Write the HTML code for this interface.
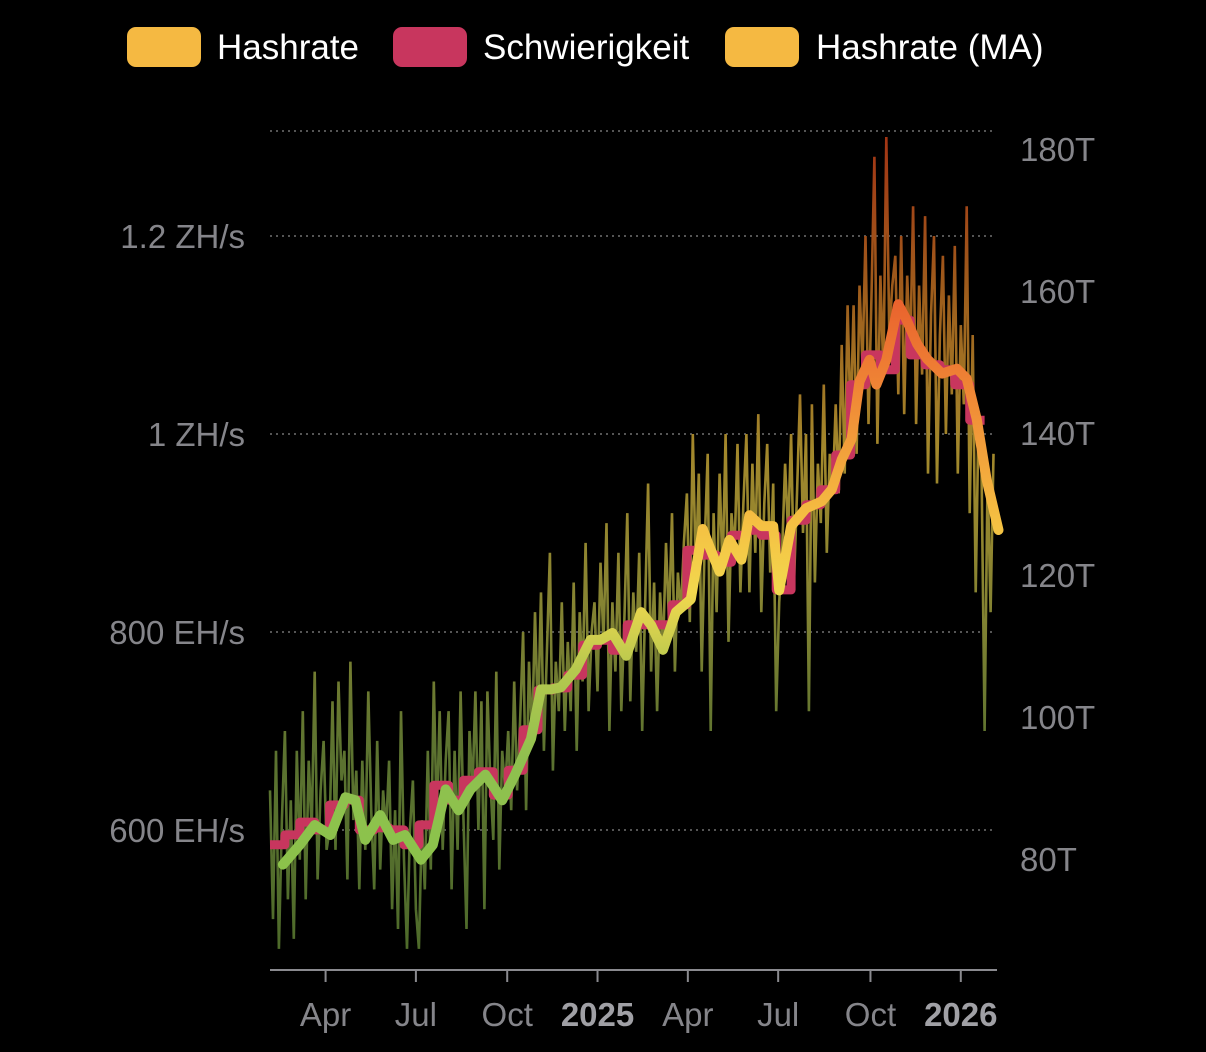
<!DOCTYPE html>
<html><head><meta charset="utf-8"><style>
html,body{margin:0;padding:0;background:#000;}
body{width:1206px;height:1052px;overflow:hidden;font-family:"Liberation Sans",sans-serif;}
.lg{position:absolute;top:27px;height:40px;width:74px;border-radius:9px;}
.lt{position:absolute;top:27px;font-size:35px;color:#fff;line-height:42px;}
</style></head><body>
<div>
<div class="lg" style="left:127px;background:#f5b942"></div>
<div class="lt" style="left:217px">Hashrate</div>
<div class="lg" style="left:393px;background:#c8365e"></div>
<div class="lt" style="left:483px">Schwierigkeit</div>
<div class="lg" style="left:725px;background:#f5b942"></div>
<div class="lt" style="left:816px">Hashrate (MA)</div>
</div>
<svg id="chart" width="1206" height="1052" style="position:absolute;left:0;top:0">
<defs>
<linearGradient id="gRaw" gradientUnits="userSpaceOnUse" x1="0" y1="130" x2="0" y2="970">
<stop offset="0" stop-color="#a33314"/><stop offset="0.2" stop-color="#9e5e1c"/><stop offset="0.38" stop-color="#a3882c"/>
<stop offset="0.56" stop-color="#868432"/><stop offset="0.74" stop-color="#5c7330"/><stop offset="1" stop-color="#4d6a2a"/>
</linearGradient>
<linearGradient id="gMA" gradientUnits="userSpaceOnUse" x1="0" y1="280" x2="0" y2="880">
<stop offset="0" stop-color="#e85a2c"/><stop offset="0.2" stop-color="#f08a36"/><stop offset="0.4" stop-color="#f5bf42"/>
<stop offset="0.52" stop-color="#f2d84e"/><stop offset="0.65" stop-color="#b6c84e"/><stop offset="0.8" stop-color="#8fc04f"/><stop offset="1" stop-color="#8bc34a"/>
</linearGradient>
</defs>
<g id="grid"></g><g id="axes"></g><g id="series"></g>
</svg>
<script>
const startStepDays = 3;
const hashrate = [
640,510,680,480,610,700,530,630,490,680,
570,720,530,670,600,760,550,640,690,580,
600,730,580,750,650,680,550,770,610,660,
540,670,580,740,620,540,690,560,640,600,
670,520,620,500,720,570,480,600,650,520,
480,610,540,680,560,750,610,720,580,670,
720,540,680,580,740,610,500,700,640,740,
600,730,520,740,650,590,760,560,680,640,
700,620,750,640,710,800,620,770,690,820,
710,840,680,780,880,660,770,720,830,700,
790,720,850,680,820,750,890,720,800,830,
740,870,790,910,700,830,760,880,720,810,
920,730,840,780,880,700,830,950,760,850,
720,840,780,890,810,920,760,860,820,890,
940,810,1000,860,960,760,890,980,700,920,
820,960,860,1000,790,920,880,990,840,930,
1000,840,970,880,1020,820,930,990,860,950,
720,830,880,970,900,1000,850,940,1040,900,
1000,720,1030,850,970,910,1050,880,980,940,
1030,940,1090,960,1130,1010,1130,980,1150,1070,
1200,1010,1140,1280,990,1160,1060,1300,1100,1150,
1180,1040,1200,1020,1160,1080,1230,1010,1150,1060,
1220,960,1120,1200,950,1100,1180,1000,1140,1040,
1190,960,1110,1030,1230,920,1100,840,1020,960,
700,960,820,980];
const maDays = [13,30,45,61,76,86,96,111,124,136,152,164,177,190,202,217,227,234,247,263,273,283,293,308,323,333,345,359,374,384,396,409,424,436,444,453,463,475,483,495,507,513,525,540,556,566,576,586,594,604,611,621,633,641,652,662,677,692,702,712,722,734];
const maValues = [565,585,605,595,633,630,590,615,590,595,570,585,641,620,641,656,641,630,656,692,742,742,744,762,792,792,799,776,820,807,782,820,833,904,883,861,893,873,918,907,907,842,907,925,932,944,974,995,1053,1075,1050,1075,1131,1116,1091,1076,1061,1066,1056,1015,954,903];
const diffEpochDays = 15;
const difficultyT = [82.0,83.4,85.2,84.1,87.6,88.3,84.1,84.4,84.1,82.0,84.8,90.4,88.3,91.1,92.3,89.0,92.5,98.2,103.8,104.1,105.9,110.1,110.8,109.4,113.0,113.0,113.0,115.8,123.5,122.8,121.8,125.6,126.3,125.6,117.9,127.7,129.9,132.0,136.9,146.8,151.0,148.9,155.9,151.0,149.6,148.9,146.8,141.8];
const leftTicks = [600,800,1000,1200];
const leftTickLabels = ["600 EH/s","800 EH/s","1 ZH/s","1.2 ZH/s"];
const rightTicks = [80,100,120,140,160,180];
const xTickDays = [56,147,239,330,421,512,605,696];
const xTickLabels = ["Apr","Jul","Oct","2025","Apr","Jul","Oct","2026"];

const NS="http://www.w3.org/2000/svg";
const X0=270, XR=0.9925, XEND=997;
const xS=d=>X0+d*XR;
const yL=v=>830-(v-600)*0.99;
const yR=t=>859-(t-80)*7.1;
function mk(tag,attrs,parent){const e=document.createElementNS(NS,tag);for(const k in attrs)e.setAttribute(k,attrs[k]);parent.appendChild(e);return e;}
const grid=document.getElementById('grid'),axes=document.getElementById('axes'),ser=document.getElementById('series');
[...leftTicks.map(yL),131].forEach((y,i)=>{
 const l=mk('line',{x1:X0,x2:993,y1:y,y2:y,stroke:'#555',"stroke-width":2,"stroke-dasharray":"2 4"},grid);
 
 
});
leftTicks.forEach((v,i)=>{
 const t=mk('text',{x:245,y:yL(v)+12,"text-anchor":"end",fill:'#85858a',"font-size":33},axes);
 t.textContent=leftTickLabels[i];
 
 
});
rightTicks.forEach(v=>{
 const t=mk('text',{x:1020,y:yR(v)+12,fill:'#85858a',"font-size":33},axes);
 t.textContent=v+'T';
 
 
});
const ax=mk('line',{x1:X0,x2:XEND,y1:970,y2:970,stroke:'#8a8a8f',"stroke-width":2},axes);


xTickDays.forEach((d,i)=>{
 const x=xS(d);
 const tk=mk('line',{x1:x,x2:x,y1:970,y2:982,stroke:'#8a8a8f',"stroke-width":2},axes);
 
 
 const bold=/^\d+$/.test(xTickLabels[i]);
 const t=mk('text',{x:x,y:1026,"text-anchor":"middle",fill:bold?'#a0a0a5':'#85858a',"font-size":33,"font-weight":bold?'bold':'normal'},axes);
 t.textContent=xTickLabels[i];
 
 
});
const rawPts=hashrate.map((v,i)=>xS(i*startStepDays).toFixed(1)+','+yL(v).toFixed(1)).join(' ');
const raw=mk('polyline',{points:rawPts,fill:'none',stroke:'url(#gRaw)',"stroke-width":2.6,"stroke-linejoin":"miter"},ser);


let dp=[];
difficultyT.forEach((t,i)=>{const y=yR(t).toFixed(1);dp.push(xS(i*diffEpochDays).toFixed(1)+','+y);dp.push(Math.min(XEND-3,xS((i+1)*diffEpochDays)).toFixed(1)+','+y);});
const dl=mk('polyline',{points:dp.join(' '),fill:'none',stroke:'#c8365e',"stroke-width":9,"stroke-linejoin":"round"},ser);


const maPts=maValues.map((v,i)=>xS(maDays[i]).toFixed(1)+','+yL(v).toFixed(1)).join(' ');
const ma=mk('polyline',{points:maPts,fill:'none',stroke:'url(#gMA)',"stroke-width":10,"stroke-linejoin":"round","stroke-linecap":"round"},ser);


</script>
</body></html>
